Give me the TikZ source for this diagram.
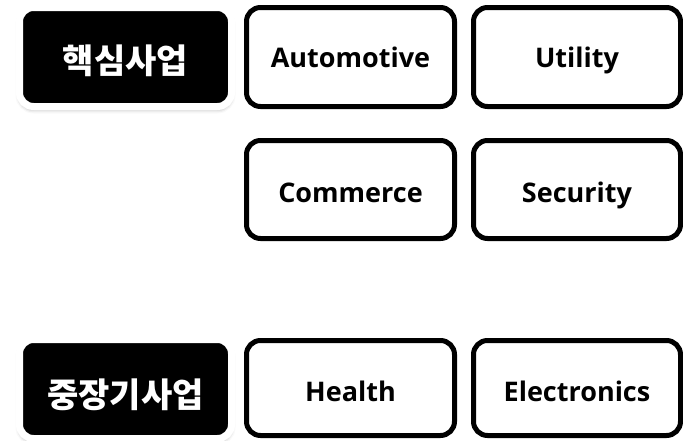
\documentclass[tikz,border=0pt]{standalone}
\usepackage{fontspec}
\setmainfont{Open Sans}
\newfontfamily\krfont{Noto Sans CJK KR}
\usetikzlibrary{shadows.blur}
\tikzset{
  itembox/.style={draw=black, fill=white, line width=5pt, rounded corners=14pt,
    minimum width=208pt, inner sep=0pt, text depth=2pt,
    font=\bfseries\fontsize{27}{30}\selectfont, text=black},
  headbox/.style={fill=black, draw=white, line width=7pt, rounded corners=14pt,
    minimum width=212pt, minimum height=99pt, inner sep=0pt, text depth=1pt,
    font=\krfont\bfseries\fontsize{34}{36}\selectfont, text=white,
    blur shadow={shadow xshift=0pt, shadow yshift=-3pt, shadow blur radius=4pt, shadow opacity=35}}
}
\begin{document}
\begin{tikzpicture}[x=1pt,y=-1pt]
\useasboundingbox (0,0) rectangle (683,440);
\node[headbox, text height=34.8pt] (core) at (125.5,57) {핵심사업};
\node[headbox, text height=37.8pt] (long) at (125.5,389) {중장기사업};
\node[itembox, minimum height=99pt, text height=22.3pt] (auto) at (350.5,57) {Automotive};
\node[itembox, minimum height=99pt, minimum width=207pt, text height=22.3pt] (util) at (577,57) {Utility};
\node[itembox, minimum height=98pt, text height=27.3pt] (comm) at (350.5,189.5) {Commerce};
\node[itembox, minimum height=98pt, minimum width=207pt, text height=27.3pt] (secu) at (577,189.5) {Security};
\node[itembox, minimum height=95pt, text height=29.3pt] (heal) at (350.5,388) {Health};
\node[itembox, minimum height=95pt, minimum width=207pt, text height=29.3pt] (elec) at (577,388) {Electronics};
\end{tikzpicture}
\end{document}
